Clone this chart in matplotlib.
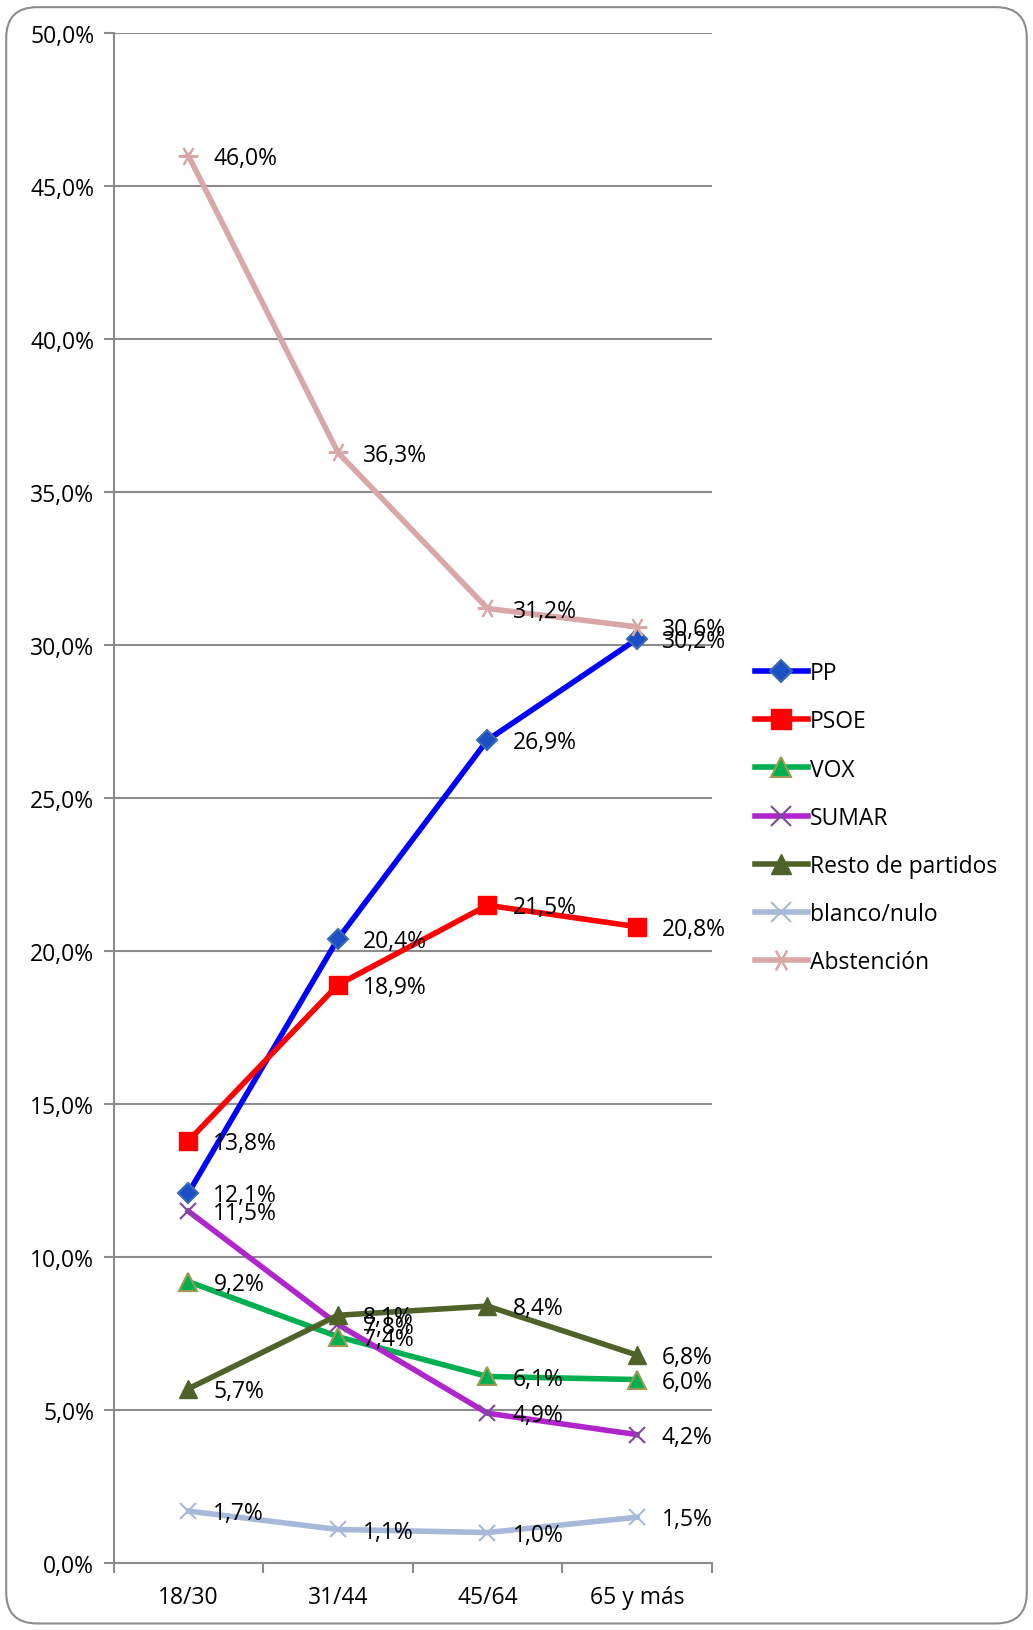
import matplotlib.pyplot as plt
from matplotlib.patches import FancyBboxPatch

plt.rcParams['font.family'] = ['Open Sans', 'DejaVu Sans']

categories = ["18/30", "31/44", "45/64", "65 y más"]
pp = [12.1, 20.4, 26.9, 30.2]
psoe = [13.8, 18.9, 21.5, 20.8]
vox = [9.2, 7.4, 6.1, 6.0]
sumar = [11.5, 7.8, 4.9, 4.2]
resto = [5.7, 8.1, 8.4, 6.8]
blanco = [1.7, 1.1, 1.0, 1.5]
abstencion = [46.0, 36.3, 31.2, 30.6]

series = [
    ("PP", pp, dict(color="#0000FF", marker="D", ms=10, mfc="#1C4FC4", mec="#3A6BB0", mew=1.5)),
    ("PSOE", psoe, dict(color="#FF0000", marker="s", ms=13, mfc="#FF0000", mec="#FF0000")),
    ("VOX", vox, dict(color="#00B050", marker="^", ms=13, mfc="#00B050", mec="#9C9A50", mew=1.5)),
    ("SUMAR", sumar, dict(color="#B026CC", marker="x", ms=12, mec="#7A4A9E", mew=1.5)),
    ("Resto de partidos", resto, dict(color="#4F6228", marker="^", ms=13, mfc="#4F6228", mec="#4F6228")),
    ("blanco/nulo", blanco, dict(color="#A7B9D9", marker="x", ms=12, mec="#A7B9D9", mew=1.5)),
    ("Abstención", abstencion, dict(color="#D9A7A7", marker=(6, 2, 90), ms=14, mec="#D9A7A7", mew=1.5)),
]

fig = plt.figure(figsize=(10.33, 16.31), dpi=100)
border = FancyBboxPatch((0.006, 0.004), 0.988, 0.991, boxstyle="round,pad=0,rounding_size=0.03",
                        transform=fig.transFigure, fc="white", ec="#8C8C8C", lw=1.5,
                        mutation_aspect=1033 / 1631, zorder=-10)
fig.patches.append(border)

ax = fig.add_axes([0.110, 0.041, 0.579, 0.938])
ax.patch.set_alpha(0)
x = list(range(len(categories)))

for name, vals, style in series:
    ax.plot(x, vals, lw=4, label=name, zorder=3, **style)
    for xi, v in zip(x, vals):
        ax.annotate(f"{v:.1f}%".replace(".", ","), (xi, v), xytext=(18, -1.5),
                    textcoords="offset points", va="center", ha="left", fontsize=16.5, zorder=5)

ax.set_xlim(-0.5, 3.5)
ax.set_ylim(0, 50)
ax.set_yticks(range(0, 51, 5))
ax.set_yticklabels([f"{t:.1f}%".replace(".", ",") for t in range(0, 51, 5)], fontsize=16.5)
ax.set_xticks(x)
ax.set_xticklabels(categories, fontsize=16.5)
ax.set_xticks([-0.5, 0.5, 1.5, 2.5, 3.5], minor=True)
ax.tick_params(axis="x", which="major", length=0, pad=16)
ax.tick_params(axis="x", which="minor", length=7, color="#8C8C8C", width=1.5)
ax.tick_params(axis="y", length=7, color="#8C8C8C", width=1.5, pad=7)
ax.yaxis.grid(True, color="#8C8C8C", lw=1.5)
ax.set_axisbelow(True)
for s in ["top", "right"]:
    ax.spines[s].set_visible(False)
for s in ["left", "bottom"]:
    ax.spines[s].set_color("#8C8C8C")
    ax.spines[s].set_linewidth(1.5)

fig.legend(loc="upper left", bbox_to_anchor=(0.722, 0.5995), frameon=False, fontsize=16.5,
           handlelength=2.3, handletextpad=0.1, labelspacing=1.05, borderaxespad=0,
           markerscale=1.15)

fig.savefig("out.png", dpi=100)
